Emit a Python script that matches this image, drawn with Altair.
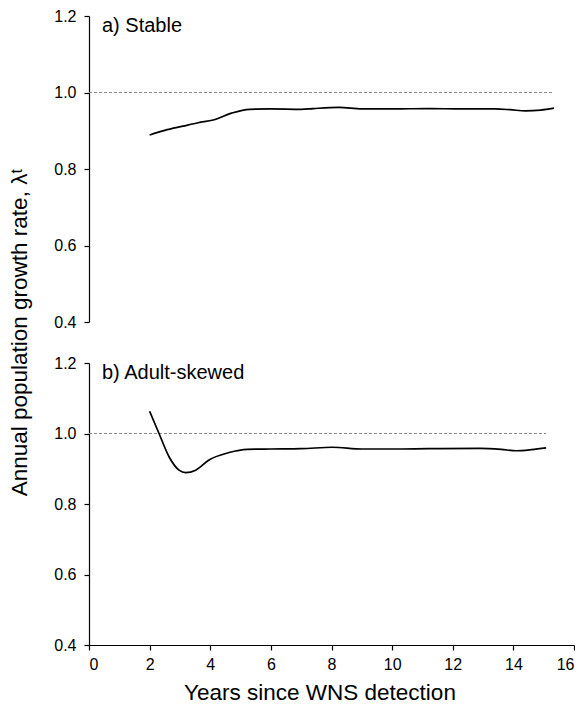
import altair as alt
import pandas as pd

# ---- data ----
top_years = [2.0, 2.5, 3.1, 3.6, 4.1, 4.7, 5.3, 6.0, 7.0, 7.4, 8.25, 9.0, 10.0, 11.2, 12.3, 13.4, 13.9, 14.4, 14.9, 15.34]
top_lambda = [0.889, 0.901, 0.912, 0.921, 0.928, 0.946, 0.956, 0.957, 0.956, 0.958, 0.961, 0.957, 0.957, 0.958, 0.957, 0.957, 0.955, 0.952, 0.954, 0.959]

bot_years = [2.0, 2.31, 2.64, 2.97, 3.19, 3.52, 3.96, 4.62, 5.22, 6.0, 7.0, 8.03, 9.0, 10.0, 11.2, 12.9, 13.6, 14.1, 14.6, 15.08]
bot_lambda = [1.063, 1.0, 0.934, 0.896, 0.889, 0.896, 0.925, 0.946, 0.955, 0.956, 0.957, 0.961, 0.956, 0.956, 0.957, 0.958, 0.955, 0.951, 0.954, 0.959]

ref_level = [1.0]
top_ref_end = [15.34]
bot_ref_end = [15.08]

panel_labels = ["a) Stable", "b) Adult-skewed"]
y_ticks = [0.4, 0.6, 0.8, 1.0, 1.2]
x_ticks = [0, 2, 4, 6, 8, 10, 12, 14, 16]

FONT = "Liberation Sans"
W = 485

x_scale = alt.Scale(domain=[0, 16], nice=False, zero=False)
y_scale = alt.Scale(domain=[0.4, 1.2], nice=False, zero=False)


def panel(years, lam, ref_end, label, height, show_x):
    line_df = pd.DataFrame({"year": years, "lam": lam})
    ref_df = pd.DataFrame({"x0": [0.0], "x1": ref_end, "y": ref_level})

    if show_x:
        x_axis = alt.Axis(values=x_ticks, format="d", title="Years since WNS detection",
                          grid=False, tickSize=5, labelPadding=6, titlePadding=9,
                          titleX=W / 2 - 12,
                          titleFontSize=22.5, titleFontWeight="normal")
    else:
        x_axis = None

    if show_x:
        y_axis = alt.Axis(values=y_ticks, format=".1f", grid=False, tickSize=5, labelPadding=8,
                          title="Annual population growth rate, λᵗ", titleY=-31,
                          titleFontSize=22.5, titleFontWeight="normal", titlePadding=22)
    else:
        y_axis = alt.Axis(values=y_ticks, format=".1f", grid=False, tickSize=5, labelPadding=8,
                          title=None)

    ref = alt.Chart(ref_df).mark_rule(color="#8a8a8a", strokeDash=[3, 2], strokeWidth=1).encode(
        x=alt.X("x0:Q", scale=x_scale, axis=x_axis),
        x2="x1:Q",
        y=alt.Y("y:Q", scale=y_scale, axis=y_axis),
    )
    line = alt.Chart(line_df).mark_line(color="black", strokeWidth=1.7, interpolate="monotone").encode(
        x=alt.X("year:Q", scale=x_scale),
        y=alt.Y("lam:Q", scale=y_scale),
    )
    txt = alt.Chart(pd.DataFrame({"t": [label]})).mark_text(
        align="left", baseline="middle", fontSize=20, font=FONT, color="black"
    ).encode(x=alt.value(13), y=alt.value(10), text="t:N")

    return alt.layer(ref, line, txt).properties(width=W, height=height)


top = panel(top_years, top_lambda, top_ref_end, panel_labels[0], 306, False)
bottom = panel(bot_years, bot_lambda, bot_ref_end, panel_labels[1], 282, True)

chart = alt.vconcat(top, bottom, spacing=41, bounds="flush").properties(
    padding={"left": 0, "top": 0, "right": 0, "bottom": 5},
    background="white",
).configure_view(stroke=None).configure_axis(
    labelFont=FONT, titleFont=FONT, labelFontSize=16, labelColor="black", titleColor="black",
    domainColor="black", tickColor="black", domainWidth=1.2, tickWidth=1.2,
)

chart.save("out.html", embed_options={"renderer": "svg", "actions": False})
